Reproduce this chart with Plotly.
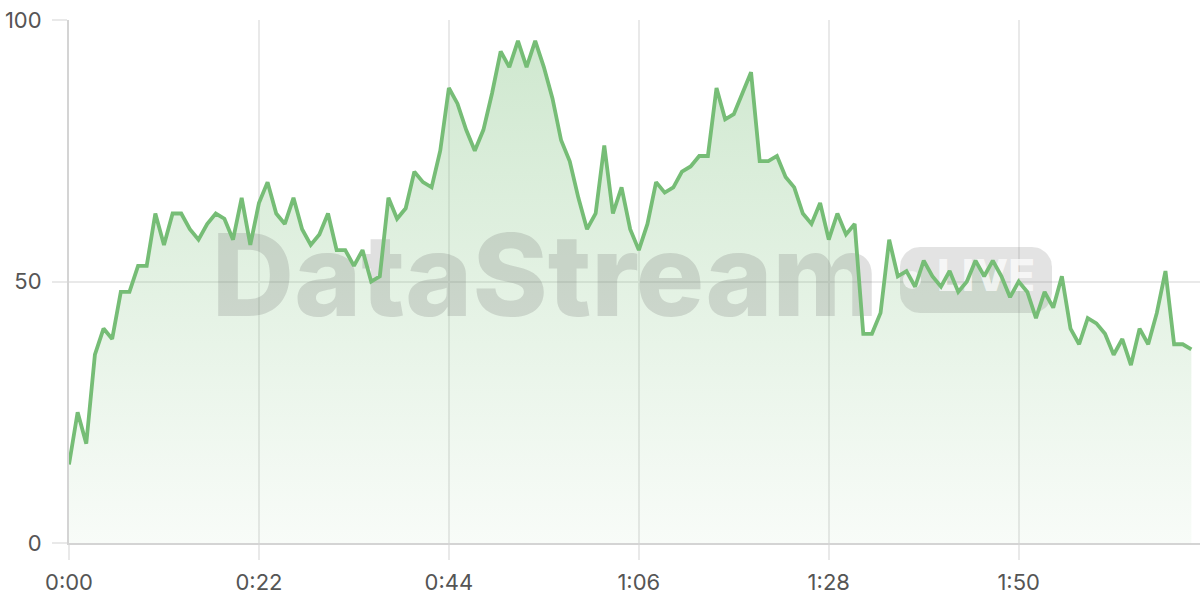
import numpy as np
import plotly.graph_objects as go

# ---- data (one sample per second) ----
seconds = list(range(131))
values = [
    15, 25, 19, 36, 41, 39, 48, 48, 53, 53, 63, 57, 63, 63, 60, 58, 61, 63, 62, 58, 66, 57,
    65, 69, 63, 61, 66, 60, 57, 59, 63, 56, 56, 53, 56, 50, 51, 66, 62, 64, 71, 69, 68, 75,
    87, 84, 79, 75, 79, 86, 94, 91, 96, 91, 96, 91, 85, 77, 73, 66, 60, 63, 76, 63, 68, 60, 56,
    61, 69, 67, 68, 71, 72, 74, 74, 87, 81, 82, 86, 90, 73, 73, 74, 70, 68, 63, 61, 65, 58,
    63, 59, 61, 40, 40, 44, 58, 51, 52, 49, 54, 51, 49, 52, 48, 50, 54, 51, 54, 51, 47, 50,
    48, 43, 48, 45, 51, 41, 38, 43, 42, 40, 36, 39, 34, 41, 38, 44, 52, 38, 38, 37,
]
tick_seconds = [0, 22, 44, 66, 88, 110]
tick_labels = [f"{s // 60}:{s % 60:02d}" for s in tick_seconds]
y_ticks = [0, 50, 100]

X_MAX = 131
Y_MAX = 100

LINE = "#76BD76"
GRID = "#e9e9e9"
AXIS = "#d4d4d4"
TICKFONT = dict(family="Inter, 'Open Sans', sans-serif", size=22, color="#555555")

fig = go.Figure()

# filled area with vertical gradient
fig.add_trace(go.Scatter(
    x=seconds, y=values, mode="lines", line=dict(width=0, color=LINE),
    fill="tozeroy",
    fillgradient=dict(type="vertical",
                      colorscale=[[0, "rgba(118,189,118,0.05)"], [1, "rgba(118,189,118,0.36)"]],
                      start=0, stop=Y_MAX),
    hoverinfo="skip", showlegend=False,
))

# ---- watermark (decoration, drawn between fill and line) ----
px_per_x = (1200 - 69) / X_MAX
px_per_y = 523 / Y_MAX
pill_x0, pill_x1 = (900 - 69) / px_per_x, (1052 - 69) / px_per_x
pill_y0, pill_y1 = (543 - 313) / px_per_y, (543 - 247) / px_per_y
r = 20
rx, ry = r / px_per_x, r / px_per_y
t = np.linspace(0, np.pi / 2, 12)
corners = [
    (pill_x1 - rx, pill_y1 - ry, 0),
    (pill_x0 + rx, pill_y1 - ry, np.pi / 2),
    (pill_x0 + rx, pill_y0 + ry, np.pi),
    (pill_x1 - rx, pill_y0 + ry, 3 * np.pi / 2),
]
pxs, pys = [], []
for cx, cy, a0 in corners:
    pxs += list(cx + rx * np.cos(a0 + t))
    pys += list(cy + ry * np.sin(a0 + t))
pxs.append(pxs[0]); pys.append(pys[0])
fig.add_trace(go.Scatter(x=pxs, y=pys, mode="lines", fill="toself",
                         fillcolor="rgba(100,100,100,0.18)", line=dict(width=0),
                         hoverinfo="skip", showlegend=False))
fig.add_trace(go.Scatter(
    x=[(545 - 69) / px_per_x], y=[(543 - 287) / px_per_y], mode="text", text=["DataStream"],
    textposition="middle center",
    textfont=dict(family="Inter", size=114, weight=800, color="rgba(100,100,100,0.2)"),
    hoverinfo="skip", showlegend=False))
fig.add_trace(go.Scatter(
    x=[(912 - 69) / px_per_x], y=[(543 - 280) / px_per_y], mode="markers",
    marker=dict(size=18, color="rgba(255,255,255,0.65)", line=dict(width=0)),
    hoverinfo="skip", showlegend=False))
fig.add_trace(go.Scatter(
    x=[(986 - 69) / px_per_x], y=[(543 - 280) / px_per_y], mode="text", text=["LIVE"],
    textposition="middle center",
    textfont=dict(family="Inter", size=44, weight=800, color="rgba(255,255,255,0.7)"),
    hoverinfo="skip", showlegend=False))

# the line itself
fig.add_trace(go.Scatter(
    x=seconds, y=values, mode="lines", line=dict(color=LINE, width=3.8),
    showlegend=False,
))

fig.update_layout(
    width=1200, height=600, autosize=False,
    margin=dict(l=69, r=0, t=20, b=57),
    paper_bgcolor="white", plot_bgcolor="white",
    showlegend=False,
    xaxis=dict(range=[0, X_MAX], tickvals=tick_seconds, ticktext=tick_labels,
               showgrid=True, gridcolor=GRID, gridwidth=1.5,
               ticks="outside", ticklen=15, tickcolor=GRID, tickwidth=1.5,
               ticklabelstandoff=4,
               showline=True, linecolor=AXIS, linewidth=2, zeroline=False,
               tickfont=TICKFONT, fixedrange=True),
    yaxis=dict(range=[0, Y_MAX], tickvals=y_ticks,
               showgrid=True, gridcolor=GRID, gridwidth=1.5,
               ticks="outside", ticklen=15, tickcolor=GRID, tickwidth=1.5,
               ticklabelstandoff=6,
               showline=True, linecolor=AXIS, linewidth=2, zeroline=False,
               tickfont=TICKFONT, fixedrange=True),
)

fig.write_html("out.html", config={"displayModeBar": False},
               post_script="document.body.style.margin='0';")
